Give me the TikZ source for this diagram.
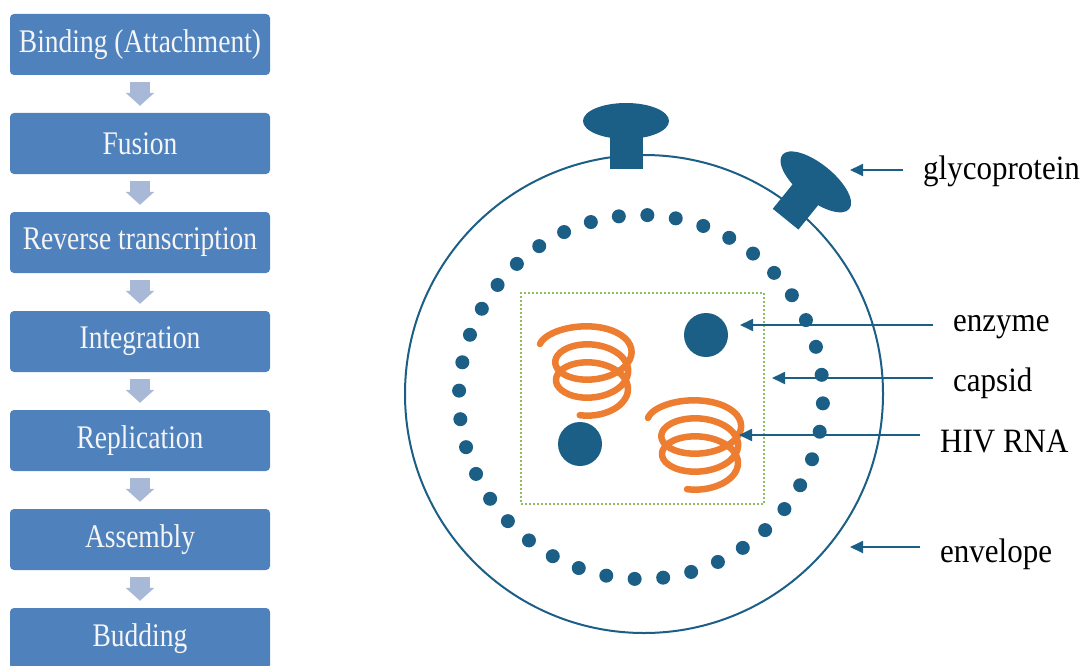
\documentclass[tikz,border=0pt]{standalone}
\usepackage{fontspec}
\setmainfont{Liberation Serif}
\usetikzlibrary{arrows.meta}

\definecolor{virusblue}{HTML}{1B5E86}
\definecolor{stepblue}{HTML}{4F81BD}
\definecolor{flowarrow}{HTML}{A7B9D7}
\definecolor{rnaorange}{HTML}{ED7D31}
\definecolor{capsidgreen}{HTML}{8DBF5E}

% slightly taller lettering
\newcommand\vstretch[2]{\scalebox{1}[#1]{#2}}

\begin{document}
\begin{tikzpicture}[x=1pt,y=-1pt,
  stepbox/.style={fill=stepblue, rounded corners=4pt, minimum width=260pt,
    minimum height=61pt, inner sep=0pt, text=white!96!black,
    font=\fontsize{27.5}{31}\selectfont},
  flow/.style={draw=flowarrow, line width=20pt,
    -{Triangle[length=13pt,width=28pt]}, shorten <=7pt, shorten >=7pt},
  partname/.style={anchor=base west, inner sep=0pt, text=black,
    font=\fontsize{31}{36}\selectfont},
  pointer/.style={draw=virusblue, line width=1.8pt,
    -{Triangle[length=13pt,width=12pt]}, shorten <=20pt},
  rnacoil/.style={draw=rnaorange, line width=6.5pt, line cap=round, line join=round},
]
\useasboundingbox (0,0) rectangle (1089,666);
\clip (0,0) rectangle (1089,666);

% ---------- life cycle steps ----------
\foreach \name/\txt [count=\i from 0] in
  {b1/Binding (Attachment), b2/Fusion, b3/Reverse transcription,
   b4/Integration, b5/Replication, b6/Assembly, b7/Budding}
  \node[stepbox] (\name) at (140, {44.5+99*\i}) {\vstretch{1.2}{\txt}};

\foreach \a/\b in {b1/b2, b2/b3, b3/b4, b4/b5, b5/b6, b6/b7}
  \draw[flow] (\a.south) -- (\b.north);

% ---------- virion ----------
\node[circle, draw=virusblue, line width=2pt, minimum size=478pt, inner sep=0pt]
  (envelope) at (644,394) {};

% matrix protein ring
\foreach \k in {0,...,39}
  \fill[virusblue] ({641+182*cos(9*\k+88)}, {397-182*sin(9*\k+88)}) circle[radius=7pt];

% surface glycoproteins
\foreach \px/\py/\rot in {626/155/0, 794.4/208.3/-39} {
  \begin{scope}[shift={(\px,\py)}, rotate=\rot]
    \fill[virusblue] (-16.5,14) rectangle (16.5,-20);
    \fill[virusblue] (0,-34) ellipse[x radius=43pt, y radius=18pt];
  \end{scope}
}

% capsid
\node[draw=capsidgreen, line width=2pt, dash pattern=on 2pt off 2pt,
  minimum width=243pt, minimum height=211pt, inner sep=0pt] (capsid) at (642.5,398.5) {};

% enzymes
\node[circle, fill=virusblue, minimum size=44pt, inner sep=0pt] (enz1) at (706,335) {};
\node[circle, fill=virusblue, minimum size=44pt, inner sep=0pt] (enz2) at (580,444) {};

% RNA strands: coils drifting downwards, the first turn opening wider
\draw[rnacoil] plot[smooth, domain=180:1190, samples=120, variable=\t]
  ({592+(36+16*exp(-(\t-180)/120))*cos(\t)}, {344+(\t-180)/20+22*sin(\t)});
\draw[rnacoil] plot[smooth, domain=180:1190, samples=120, variable=\t]
  ({700+(38+14*exp(-(\t-180)/120))*cos(\t)}, {418+(\t-180)/20+22*sin(\t)});

% ---------- part labels ----------
\node[partname] (lglyco) at (923,179) {\vstretch{1.1}{glycoprotein}};
\node[partname] (lenz)   at (953,331) {\vstretch{1.1}{enzyme}};
\node[partname] (lcap)   at (953,391) {\vstretch{1.1}{capsid}};
\node[partname] (lrna)   at (940,452) {\vstretch{1.1}{HIV RNA}};
\node[partname] (lenv)   at (940,562) {\vstretch{1.1}{envelope}};

\coordinate (tglyco) at (850,170);
\coordinate (tenz)   at (740,325);
\coordinate (tcap)   at (772,378);
\coordinate (trna)   at (739,435);
\coordinate (tenv)   at (850,547);

\draw[pointer] (lglyco.west |- tglyco) -- (tglyco);
\draw[pointer] (lenz.west |- tenz) -- (tenz);
\draw[pointer] (lcap.west |- tcap) -- (tcap);
\draw[pointer] (lrna.west |- trna) -- (trna);
\draw[pointer] (lenv.west |- tenv) -- (tenv);
\end{tikzpicture}
\end{document}
